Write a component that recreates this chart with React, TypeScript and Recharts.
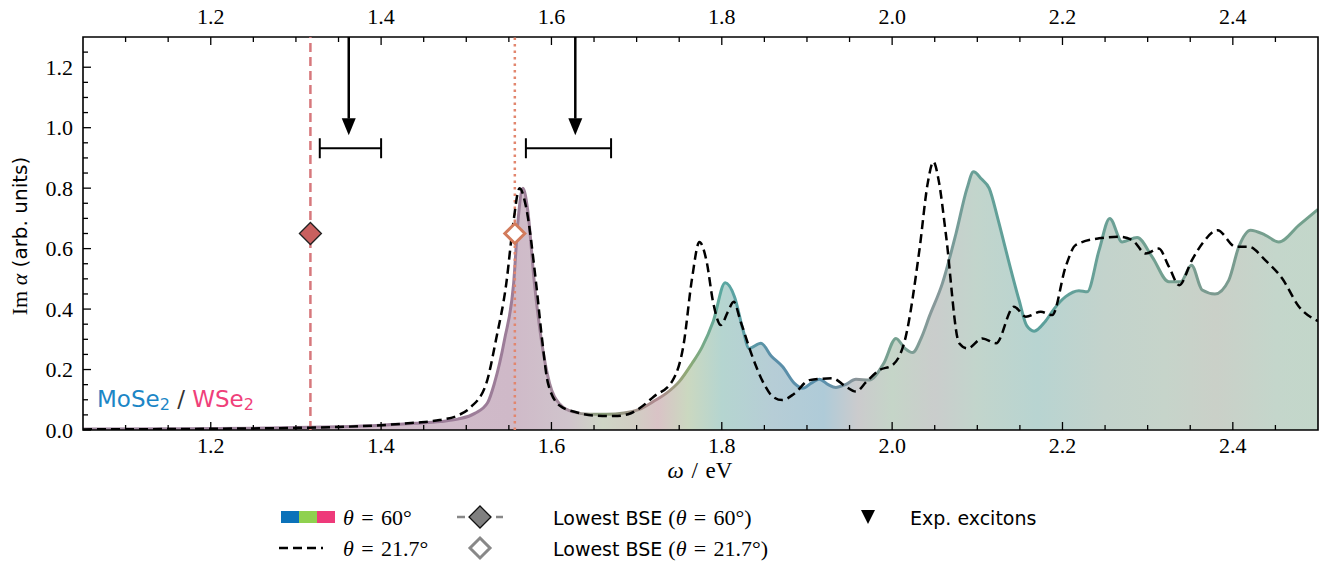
import {
  ComposedChart, Area, Line, Scatter, XAxis, YAxis, ReferenceLine, ReferenceArea, ErrorBar,
} from "recharts";

// theta = 60 deg spectrum (solid, coloured)
const solidOmega = [
  1.05, 1.15, 1.25, 1.3, 1.35, 1.4, 1.44, 1.47, 1.49, 1.51, 1.525, 1.533, 1.545, 1.5556, 1.561,
  1.5665, 1.572, 1.58, 1.588, 1.5978, 1.61, 1.625, 1.645, 1.665, 1.685, 1.703, 1.72, 1.7347, 1.75,
  1.765, 1.777, 1.79, 1.804, 1.815, 1.825, 1.832, 1.846, 1.858, 1.8715, 1.885, 1.895, 1.905, 1.9145,
  1.925, 1.934, 1.945, 1.9575, 1.973, 1.99, 2.0045, 2.015, 2.024, 2.035, 2.0436, 2.059, 2.075, 2.088,
  2.0955, 2.105, 2.114, 2.124, 2.1335, 2.149, 2.158, 2.1667, 2.18, 2.19, 2.2037, 2.2193, 2.229, 2.243,
  2.2555, 2.27, 2.2877, 2.3053, 2.3249, 2.3386, 2.3515, 2.364, 2.379, 2.3953, 2.407, 2.4208, 2.438,
  2.454, 2.4777, 2.5,
];
const solidIm = [
  0.003, 0.004, 0.006, 0.008, 0.011, 0.016, 0.022, 0.028, 0.036, 0.055, 0.09, 0.154, 0.3, 0.485, 0.7,
  0.8, 0.73, 0.485, 0.3, 0.154, 0.085, 0.06, 0.052, 0.052, 0.056, 0.068, 0.095, 0.121, 0.16,
  0.22, 0.275, 0.36, 0.487, 0.44, 0.33, 0.27, 0.287, 0.245, 0.209, 0.155, 0.138, 0.155, 0.168,
  0.15, 0.141, 0.15, 0.168, 0.165, 0.22, 0.303, 0.27, 0.256, 0.31, 0.375, 0.485, 0.65, 0.8,
  0.854, 0.83, 0.799, 0.7, 0.595, 0.43, 0.345, 0.327, 0.36, 0.4, 0.441, 0.461, 0.457, 0.595,
  0.7, 0.622, 0.637, 0.573, 0.49, 0.49, 0.545, 0.463, 0.45, 0.496, 0.606, 0.661, 0.645,
  0.622, 0.678, 0.73,
];

// theta = 21.7 deg spectrum (dashed)
const dashedOmega = [
  1.05, 1.2, 1.3, 1.35, 1.4, 1.44, 1.4688, 1.49, 1.505, 1.5235, 1.535, 1.547, 1.555, 1.5626, 1.57,
  1.582, 1.589, 1.596, 1.61, 1.63, 1.65, 1.674, 1.69, 1.7034, 1.72, 1.7425, 1.755, 1.765, 1.7737,
  1.782, 1.79, 1.799, 1.807, 1.814, 1.822, 1.836, 1.85, 1.86, 1.871, 1.885, 1.9029, 1.93, 1.945,
  1.9575, 1.97, 1.985, 2.0005, 2.016, 2.032, 2.042, 2.0484, 2.055, 2.063, 2.0787, 2.0885, 2.106,
  2.122, 2.143, 2.157, 2.1745, 2.188, 2.2037, 2.2155, 2.243, 2.2664, 2.282, 2.2977, 2.313, 2.325,
  2.337, 2.352, 2.365, 2.382, 2.4033, 2.419, 2.438, 2.458, 2.4777, 2.5,
];
const dashedIm = [
  0.002, 0.004, 0.007, 0.01, 0.016, 0.024, 0.033, 0.048, 0.075, 0.154, 0.3, 0.485, 0.68, 0.8, 0.74,
  0.485, 0.3, 0.154, 0.08, 0.058, 0.048, 0.046, 0.052, 0.072, 0.11, 0.165, 0.28, 0.5, 0.622,
  0.56, 0.42, 0.347, 0.39, 0.424, 0.36, 0.242, 0.15, 0.11, 0.099, 0.12, 0.165, 0.171, 0.145,
  0.127, 0.16, 0.198, 0.215, 0.309, 0.595, 0.82, 0.887, 0.82, 0.65, 0.287, 0.27, 0.303,
  0.287, 0.408, 0.375, 0.391, 0.38, 0.54, 0.612, 0.634, 0.639, 0.628, 0.584, 0.6, 0.54,
  0.479, 0.562, 0.62, 0.661, 0.606, 0.606, 0.562, 0.501, 0.408, 0.36,
];

// lowest BSE energies and markers
const bseOmega60 = [1.317];
const bseOmega217 = [1.557];
const bseMarkerIm = 0.65;

// experimental excitons
const excitonOmega = [1.362, 1.628];
const excitonTipIm = 0.975;
const excitonHeadIm = 1.03;
const excitonBarCenter = [1.364, 1.62];
const excitonBarHalf = [0.036, 0.05];
const excitonBarIm = 0.932;

const xMajorTicks = [1.2, 1.4, 1.6, 1.8, 2.0, 2.2, 2.4];
const xMinorTicks = [1.1, 1.15, 1.25, 1.3, 1.35, 1.45, 1.5, 1.55, 1.65, 1.7, 1.75, 1.85, 1.9, 1.95, 2.05, 2.1, 2.15, 2.25, 2.3, 2.35, 2.45];
const yMajorTicks = [0, 0.2, 0.4, 0.6, 0.8, 1.0, 1.2];
const yMinorTicks = [0.05, 0.1, 0.15, 0.25, 0.3, 0.35, 0.45, 0.5, 0.55, 0.65, 0.7, 0.75, 0.85, 0.9, 0.95, 1.05, 1.1, 1.15, 1.25];

// colour along the energy axis (layer character)
const gradOmega = [1.05, 1.55, 1.62, 1.66, 1.7, 1.725, 1.76, 1.8, 1.86, 1.92, 1.96, 2.0, 2.05, 2.1, 2.17, 2.25, 2.32, 2.38, 2.45, 2.5];
const fillColors = ["#d6c4cf", "#cfb9c8", "#d0c4cc", "#cfd6c6", "#d2cdc4", "#d9c3c6", "#cbd8c0", "#b5d5d0", "#b6cdd6", "#afcbd8", "#cbcbcd", "#c5d5c8", "#cacdcc", "#c2d5cc", "#b8d4d1", "#c3d3cc", "#c6d4ca", "#cad0c8", "#c4d6cb", "#c3d7ca"];
const strokeColors = ["#a08aa0", "#9c7c98", "#a48c9c", "#8aa07a", "#a09088", "#b08a90", "#8eaa74", "#5aa8a0", "#5a8ea8", "#5a90ac", "#8c9498", "#74a290", "#88989a", "#66a096", "#5aa09c", "#6aa096", "#74a090", "#7c9a90", "#74a08e", "#72a08c"];

const X0 = 1.05;
const X1 = 2.5;

const solidData = solidOmega.map((x, i) => ({ x, y: solidIm[i] }));
const dashedData = dashedOmega.map((x, i) => ({ x, y: dashedIm[i] }));
const bse60Data = bseOmega60.map((x) => ({ x, y: bseMarkerIm }));
const bse217Data = bseOmega217.map((x) => ({ x, y: bseMarkerIm }));
const excitonTipData = excitonOmega.map((x) => ({ x, y: excitonTipIm }));
const excitonBarData = excitonBarCenter.map((x, i) => ({ x, y: excitonBarIm, err: excitonBarHalf[i] }));

const serif = "'Liberation Serif', 'DejaVu Serif', serif";
const sans = "'DejaVu Sans', 'Noto Sans', sans-serif";
const SP = "\u2004";

const isMajor = (v: number, list: number[]) => list.some((m) => Math.abs(m - v) < 1e-6);

function XTick(props: any) {
  const { x, y, payload, side } = props;
  const v = payload.value;
  const major = isMajor(v, xMajorTicks);
  const len = major ? 8 : 5;
  const dir = side === "top" ? 1 : -1;
  return (
    <g>
      <line x1={x} x2={x} y1={y} y2={y + dir * len} stroke="#000" strokeWidth={1.3} />
      {major && (
        <text x={x} y={side === "top" ? y - 13 : y + 23} textAnchor="middle" fontFamily={serif} fontSize={22} fill="#000">
          {v.toFixed(1)}
        </text>
      )}
    </g>
  );
}

function YTick(props: any) {
  const { x, y, payload } = props;
  const v = payload.value;
  const major = isMajor(v, yMajorTicks);
  const len = major ? 8 : 5;
  return (
    <g>
      <line x1={x} x2={x + len} y1={y} y2={y} stroke="#000" strokeWidth={1.3} />
      {major && (
        <text x={x - 10} y={y + 7.5} textAnchor="end" fontFamily={serif} fontSize={22} fill="#000">
          {v.toFixed(1)}
        </text>
      )}
    </g>
  );
}

const Diamond = (filled: boolean) => (p: any) => {
  const { cx, cy } = p;
  const r = filled ? 11 : 10;
  return (
    <path
      d={`M${cx},${cy - r} L${cx + r},${cy} L${cx},${cy + r} L${cx - r},${cy} Z`}
      fill={filled ? "#c9605f" : "#fff"}
      stroke={filled ? "#222" : "#d27b5c"}
      strokeWidth={filled ? 1.3 : 3}
    />
  );
};

const ArrowHead = (p: any) => {
  const { cx, cy } = p;
  return <path d={`M${cx - 7},${cy - 17} L${cx + 7},${cy - 17} L${cx},${cy} Z`} fill="#000" />;
};

export default function App() {
  return (
    <div style={{ position: "absolute", left: 0, top: 0, width: 1335, height: 573, background: "#fff", overflow: "hidden" }}>
      <ComposedChart width={1335} height={573} margin={{ top: 0, right: 17, bottom: 100, left: 0 }}>
        <defs>
          <linearGradient id="fillGrad" x1="0" y1="0" x2="1" y2="0">
            {gradOmega.map((w, i) => (
              <stop key={i} offset={(w - X0) / (X1 - X0)} stopColor={fillColors[i]} />
            ))}
          </linearGradient>
          <linearGradient id="strokeGrad" x1="0" y1="0" x2="1" y2="0">
            {gradOmega.map((w, i) => (
              <stop key={i} offset={(w - X0) / (X1 - X0)} stopColor={strokeColors[i]} />
            ))}
          </linearGradient>
        </defs>
        <XAxis
          xAxisId="b" type="number" dataKey="x" domain={[X0, X1]} allowDataOverflow
          ticks={[...xMajorTicks, ...xMinorTicks].sort((a, b) => a - b)} interval={0}
          height={43} axisLine={false} tickLine={false} tickSize={0} tickMargin={0}
          tick={(p: any) => <XTick {...p} side="bottom" />}
        />
        <XAxis
          xAxisId="t" orientation="top" type="number" dataKey="x" domain={[X0, X1]} allowDataOverflow
          ticks={[...xMajorTicks, ...xMinorTicks].sort((a, b) => a - b)} interval={0}
          height={37} axisLine={false} tickLine={false} tickSize={0} tickMargin={0}
          tick={(p: any) => <XTick {...p} side="top" />}
        />
        <YAxis
          yAxisId="l" type="number" domain={[0, 1.3]} allowDataOverflow
          ticks={[...yMajorTicks, ...yMinorTicks].sort((a, b) => a - b)} interval={0}
          width={83} axisLine={false} tickLine={false} tickSize={0} tickMargin={0}
          tick={(p: any) => <YTick {...p} />}
        />
        <Area
          xAxisId="b" yAxisId="l" data={solidData} dataKey="y" type="monotone"
          stroke="url(#strokeGrad)" strokeWidth={3} fill="url(#fillGrad)" fillOpacity={1}
          isAnimationActive={false} dot={false} activeDot={false}
        />
        <ReferenceLine xAxisId="b" yAxisId="l" x={bseOmega60[0]} stroke="#d7787c" strokeWidth={2.5} strokeDasharray="9 5" />
        <ReferenceLine xAxisId="b" yAxisId="l" x={bseOmega217[0]} stroke="#e2866e" strokeWidth={2.5} strokeDasharray="2.5 4" />
        <Line
          xAxisId="b" yAxisId="l" data={dashedData} dataKey="y" type="monotone"
          stroke="#000" strokeWidth={2.5} strokeDasharray="9 5" dot={false} activeDot={false}
          isAnimationActive={false}
        />
        {excitonOmega.map((w, i) => (
          <ReferenceLine
            key={i} xAxisId="b" yAxisId="l"
            segment={[{ x: w, y: 1.3 }, { x: w, y: excitonHeadIm }]}
            stroke="#000" strokeWidth={2.5}
          />
        ))}
        <Scatter xAxisId="b" yAxisId="l" data={excitonTipData} dataKey="y" shape={ArrowHead} isAnimationActive={false} />
        <Scatter xAxisId="b" yAxisId="l" data={excitonBarData} dataKey="y" shape={() => <g />} isAnimationActive={false}>
          <ErrorBar dataKey="err" direction="x" width={10} stroke="#000" strokeWidth={2} />
        </Scatter>
        <Scatter xAxisId="b" yAxisId="l" data={bse60Data} dataKey="y" shape={Diamond(true)} isAnimationActive={false} />
        <Scatter xAxisId="b" yAxisId="l" data={bse217Data} dataKey="y" shape={Diamond(false)} isAnimationActive={false} />
        <ReferenceArea xAxisId="b" yAxisId="l" x1={X0} x2={X1} y1={0} y2={1.3} fill="none" stroke="#000" strokeWidth={1.6} fillOpacity={0} />
      </ComposedChart>

      {/* inline label */}
      <div style={{ position: "absolute", left: 97, top: 386, fontFamily: sans, fontSize: 23, whiteSpace: "nowrap", lineHeight: "26px" }}>
        <span style={{ color: "#1b86c6" }}>MoSe<sub style={{ fontSize: 16, verticalAlign: -3 }}>2</sub></span>
        <span style={{ color: "#333" }}> / </span>
        <span style={{ color: "#ef407a" }}>WSe<sub style={{ fontSize: 16, verticalAlign: -3 }}>2</sub></span>
      </div>

      {/* axis labels */}
      <div style={{ position: "absolute", left: 620, top: 460, width: 160, textAlign: "center", fontFamily: serif, fontSize: 23, lineHeight: "22px", whiteSpace: "nowrap" }}>
        <i>ω</i>{SP}/{SP}eV
      </div>
      <div style={{ position: "absolute", left: 20, top: 236, width: 0, height: 0 }}>
        <div style={{ position: "absolute", left: -110, top: -14, width: 220, textAlign: "center", transform: "rotate(-90deg)", whiteSpace: "nowrap", fontSize: 20, lineHeight: "28px" }}>
          <span style={{ fontFamily: serif, fontSize: 22 }}>Im <i>α</i></span>
          <span style={{ fontFamily: sans }}> (arb. units)</span>
        </div>
      </div>

      {/* legend */}
      <svg width={1335} height={573} style={{ position: "absolute", left: 0, top: 0, pointerEvents: "none" }}>
        <rect x={281} y={511} width={18} height={12} fill="#0b72b9" />
        <rect x={299} y={511} width={18} height={12} fill="#8fd14f" />
        <rect x={317} y={511} width={18} height={12} fill="#ee3a7a" />
        <line x1={279} x2={323} y1={548} y2={548} stroke="#000" strokeWidth={2.5} strokeDasharray="9 5" />
        <line x1={457} x2={503} y1={517} y2={517} stroke="#888" strokeWidth={2.5} strokeDasharray="8 5" />
        <path d="M480,506 L491,517 L480,528 L469,517 Z" fill="#808080" stroke="#111" strokeWidth={1.3} />
        <path d="M480,538 L490,548 L480,558 L470,548 Z" fill="#fff" stroke="#888" strokeWidth={3} />
        <path d="M861,510 L875,510 L868,524 Z" fill="#000" />
        <text x={343} y={525} fontFamily={serif} fontSize={22}><tspan fontStyle="italic">θ</tspan>{SP}={SP}60°</text>
        <text x={343} y={556} fontFamily={serif} fontSize={22}><tspan fontStyle="italic">θ</tspan>{SP}={SP}21.7°</text>
        <text x={553} y={525} fontFamily={sans} fontSize={19}>Lowest BSE <tspan fontFamily={serif} fontSize={22}>(<tspan fontStyle="italic">θ</tspan>{SP}={SP}60°)</tspan></text>
        <text x={553} y={556} fontFamily={sans} fontSize={19}>Lowest BSE <tspan fontFamily={serif} fontSize={22}>(<tspan fontStyle="italic">θ</tspan>{SP}={SP}21.7°)</tspan></text>
        <text x={910} y={525} fontFamily={sans} fontSize={19}>Exp. excitons</text>
      </svg>
    </div>
  );
}
